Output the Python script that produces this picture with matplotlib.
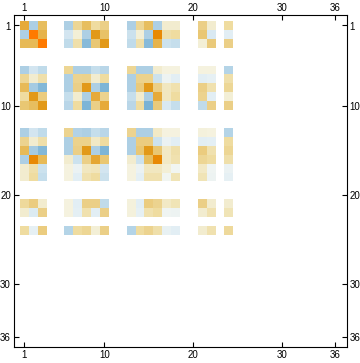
#!/usr/bin/env python

import numpy as np
import matplotlib
matplotlib.use('Agg')
import matplotlib.pyplot as plt
from matplotlib.colors import LinearSegmentedColormap

plt.rcParams['font.family'] = 'Liberation Sans'

# rows/columns of the matrix that hold a value
index = [1, 2, 3, 6, 7, 8, 9, 10, 13, 14, 15, 16, 17, 18, 21, 22, 24]
ticks = [1, 10, 20, 30, 36]

# values, one list per row in index
r1 = [.5, -.3, .4, -.3, .25, .4, .2, .3, -.3, .25, .4, -.3, .1, .1, .3, .1, .2]
r2 = [-.3, .8, .45, -.15, .08, -.3, .6, .38, -.18, .08, -.3, .7, .18, .2, .35, -.13, -.1]
r3 = [.42, .42, .8, -.22, .18, -.4, .35, .6, -.22, .18, -.4, .45, -.17, -.2, .08, .33, .3]
r6 = [-.3, -.15, -.22, .25, -.3, -.3, -.2, -.25, .25, -.3, -.3, .1, .05, .05, .05, .05, -.27]
r7 = [.25, .1, .18, -.3, .27, .28, .1, .2, -.3, .28, .28, -.17, -.05, -.1, -.1, -.08, .18]
r8 = [.42, -.32, -.42, -.3, .3, .6, -.3, -.45, -.3, .33, .6, .3, .13, .17, .3, .17, .24]
r9 = [.2, .6, .32, -.2, .1, -.3, .5, .27, -.2, .1, -.3, .5, .13, .2, .27, -.1, .08]
r10 = [.35, .4, .6, -.25, .2, -.45, .3, .5, -.25, .2, -.47, .33, -.13, -.2, -.22, .3, .3]
r13 = [-.3, -.15, -.22, .27, -.28, -.3, -.2, -.25, .27, -.3, -.3, .12, .05, .05, .06, .05, -.27]
r14 = [.27, .1, .18, -.3, .28, .28, .12, .2, -.3, .32, .32, -.17, -.06, -.1, -.1, -.09, .2]
r15 = [.42, -.32, -.42, -.3, .3, .6, -.3, -.45, -.3, .35, .6, .35, .12, .18, .32, .17, .25]
r16 = [-.3, .7, .42, .1, -.17, .3, .52, .35, .1, -.17, .4, .7, .12, .17, .25, .2, .18]
r17 = [.1, .18, -.17, .05, -.06, .13, .14, -.15, .05, -.06, .13, .13, .08, -.03, .12, -.04, -.06]
r18 = [.1, .2, -.2, .05, -.1, .17, .2, -.18, .05, -.09, .17, .17, -.03, .15, .15, -.05, -.08]
r21 = [.22, .32, .1, .05, -.1, .3, .3, -.22, .06, -.1, .32, .27, .12, .15, .3, .1, .1]
r22 = [.1, -.12, .3, .05, -.09, .17, -.1, .3, .06, -.08, .17, .2, -.04, -.05, .1, .17, .15]
r24 = [.2, -.08, .32, -.27, .2, .25, .08, .3, -.27, .2, .27, .18, -.07, -.1, .1, .17, .22]
rows = [r1, r2, r3, r6, r7, r8, r9, r10, r13, r14, r15, r16, r17, r18, r21, r22, r24]

matrix = np.full((36, 36), np.nan)
for i, row in zip(index, rows):
    for j, v in zip(index, row):
        matrix[i - 1, j - 1] = v

stops = [(-.5, '#74b0d4'), (-.4, '#88bbda'), (-.3, '#aed0e5'), (-.2, '#c5deec'), (-.1, '#e3eff5'),
         (0, '#f8f9f0'), (.1, '#f3edd0'), (.2, '#efdca0'), (.3, '#ecd088'), (.4, '#e8bf60'),
         (.5, '#e6aa3a'), (.6, '#e29a1a'), (.7, '#e88a05'), (.8, '#ff7a00')]
cmap = LinearSegmentedColormap.from_list('bo', [((v + .5) / 1.3, c) for v, c in stops])

W, H = 360, 363
left, right, top, bottom = 13.7, 346.7, 15.3, 347.3
fig = plt.figure(figsize=(W / 100, H / 100), dpi=100)
ax = fig.add_axes([left / W, 1 - bottom / H, (right - left) / W, (bottom - top) / H])

ax.imshow(matrix, cmap=cmap, vmin=-.5, vmax=.8, interpolation='nearest', aspect='auto',
          extent=[.5, 36.5, 36.5, .5])
ax.set_xlim(1 + (left - 24.4) / 8.886, 1 + (right - 24.4) / 8.886)
ax.set_ylim(1 + (bottom - 25.5) / 8.91, 1 + (top - 25.5) / 8.91)

ax.set_xticks(ticks)
ax.set_yticks(ticks)
ax.tick_params(direction='in', length=3.5, width=.8, top=True, right=True, labeltop=True,
               labelright=True, labelsize=7, pad=2)
for s in ax.spines.values():
    s.set_linewidth(.8)

fig.savefig('out.png', dpi=100)
